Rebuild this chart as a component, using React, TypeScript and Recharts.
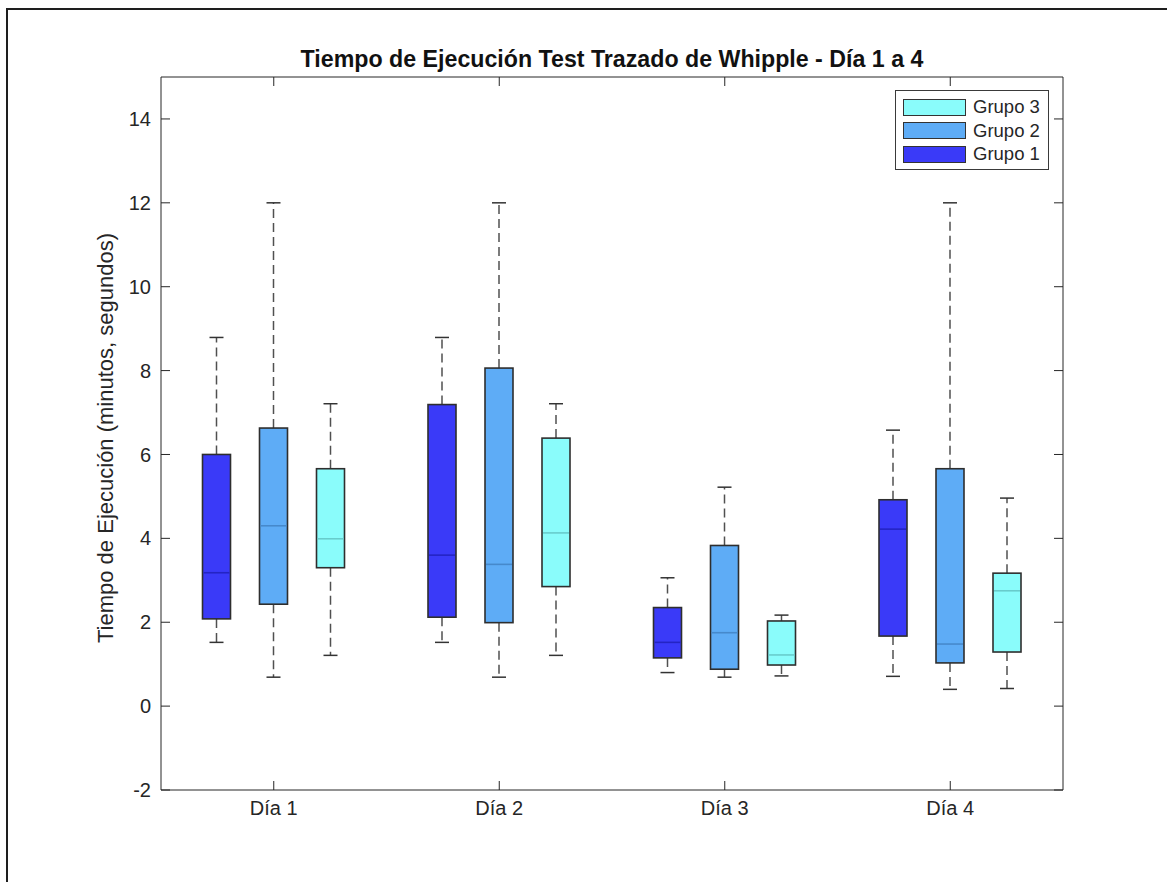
import { Bar, BarChart, XAxis, YAxis } from "recharts";

// Boxplots of execution time for the Whipple tracing test, three groups
// per day. Each tuple is [min, q1, median, q3, max].
const days = ["Día 1", "Día 2", "Día 3", "Día 4"];

const grupo1 = [
  [1.52, 2.08, 3.18, 6.0, 8.79],
  [1.52, 2.12, 3.6, 7.19, 8.79],
  [0.8, 1.15, 1.52, 2.35, 3.06],
  [0.71, 1.67, 4.22, 4.92, 6.58],
];
const grupo2 = [
  [0.69, 2.43, 4.3, 6.63, 12.0],
  [0.69, 1.99, 3.38, 8.06, 12.0],
  [0.69, 0.88, 1.75, 3.83, 5.22],
  [0.4, 1.03, 1.48, 5.66, 12.0],
];
const grupo3 = [
  [1.21, 3.3, 3.99, 5.66, 7.21],
  [1.21, 2.85, 4.13, 6.39, 7.21],
  [0.72, 0.98, 1.22, 2.03, 2.17],
  [0.42, 1.29, 2.75, 3.17, 4.96],
];

const yTicks = [-2, 0, 2, 4, 6, 8, 10, 12, 14];

const groups = [
  { key: "g1", name: "Grupo 1", stats: grupo1, fill: "#3a3af8", median: "#2424c4" },
  { key: "g2", name: "Grupo 2", stats: grupo2, fill: "#5eacf6", median: "#4689cc" },
  { key: "g3", name: "Grupo 3", stats: grupo3, fill: "#8afcfb", median: "#68cccc" },
];

// one row per day; the bar value is the whisker range, full stats ride along
const data = days.map((day, i) => {
  const row: Record<string, unknown> = { day };
  groups.forEach((g) => {
    const s = g.stats[i];
    row[g.key] = [s[0], s[4]];
    row[g.key + "Stats"] = s;
  });
  return row;
});

const AXIS = "#262626";
const FONT = "'Liberation Sans', Arial, Helvetica, sans-serif";

// mirrored axes keep their tick marks but draw no labels
const NoLabel = () => <g />;

function BoxShape(props: any) {
  const { x, y, width, height, payload, statsKey, fill, median } = props;
  const s: number[] = payload?.[statsKey];
  if (!s) return null;
  const [min, q1, med, q3, max] = s;
  const top = Math.min(y, y + height);
  const bot = Math.max(y, y + height);
  // pixel position from the bar's own scaled extent (min..max)
  const yOf = (v: number) => top + ((max - v) * (bot - top)) / (max - min);
  const cx = x + width / 2;
  const half = 14;
  const cap = 7;
  return (
    <g>
      <line x1={cx} x2={cx} y1={yOf(q3)} y2={yOf(max)} stroke="#505050" strokeWidth={1.5} strokeDasharray="9 5" />
      <line x1={cx} x2={cx} y1={yOf(q1)} y2={yOf(min)} stroke="#505050" strokeWidth={1.5} strokeDasharray="9 5" />
      <line x1={cx - cap} x2={cx + cap} y1={yOf(max)} y2={yOf(max)} stroke="#333" strokeWidth={1.5} />
      <line x1={cx - cap} x2={cx + cap} y1={yOf(min)} y2={yOf(min)} stroke="#333" strokeWidth={1.5} />
      <rect
        x={cx - half}
        y={yOf(q3)}
        width={half * 2}
        height={yOf(q1) - yOf(q3)}
        fill={fill}
        stroke="#2e2e2e"
        strokeWidth={1.6}
      />
      <line x1={cx - half + 1} x2={cx + half - 1} y1={yOf(med)} y2={yOf(med)} stroke={median} strokeWidth={1.6} />
    </g>
  );
}

function LegendBox() {
  const rows = [...groups].reverse();
  return (
    <div
      style={{
        position: "absolute",
        left: 895,
        top: 90,
        width: 154,
        height: 80,
        border: "1px solid #3a3a3a",
        background: "#fff",
        fontFamily: FONT,
        fontSize: 18.5,
        color: AXIS,
        boxSizing: "border-box",
      }}
    >
      {rows.map((g, i) => (
        <div key={g.key} style={{ position: "absolute", left: 7, top: 7 + i * 23.5, height: 18, display: "flex", alignItems: "center" }}>
          <div style={{ width: 63, height: 17, background: g.fill, border: "1px solid #333", boxSizing: "border-box" }} />
          <span style={{ marginLeft: 7, lineHeight: "18px" }}>{g.name}</span>
        </div>
      ))}
    </div>
  );
}

export default function App() {
  return (
    <div style={{ position: "absolute", left: 0, top: 0, width: 1167, height: 882, background: "#fff" }}>
      <div
        style={{
          position: "absolute",
          left: 6,
          top: 8,
          width: 1161,
          height: 874,
          borderTop: "2px solid #1e1e1e",
          borderLeft: "2px solid #1e1e1e",
          boxSizing: "border-box",
        }}
      />
      <div
        style={{
          position: "absolute",
          left: 161,
          width: 902,
          top: 46,
          textAlign: "center",
          fontFamily: FONT,
          fontWeight: "bold",
          fontSize: 23.2,
          color: "#111",
          lineHeight: "26px",
        }}
      >
        Tiempo de Ejecución Test Trazado de Whipple - Día 1 a 4
      </div>
      <div
        style={{
          position: "absolute",
          left: 106,
          top: 438,
          transform: "translate(-50%, -50%) rotate(-90deg)",
          whiteSpace: "nowrap",
          fontFamily: FONT,
          fontSize: 22,
          color: AXIS,
          lineHeight: "24px",
        }}
      >
        Tiempo de Ejecución (minutos, segundos)
      </div>
      <div style={{ position: "absolute", left: 0, top: 0 }}>
        <BarChart
          width={1167}
          height={882}
          data={data}
          margin={{ top: 76, right: 103, bottom: 52, left: 101 }}
          barSize={57}
          barGap={0}
          style={{ fontFamily: FONT }}
        >
          <XAxis
            xAxisId="bottom"
            dataKey="day"
            height={40}
            tickSize={-9}
            tickMargin={20}
            axisLine={{ stroke: AXIS }}
            tickLine={{ stroke: AXIS }}
            tick={{ fill: AXIS, fontSize: 20 }}
            interval={0}
          />
          <XAxis
            xAxisId="top"
            dataKey="day"
            orientation="top"
            height={1}
            tickSize={-9}
            tickMargin={0}
            tick={NoLabel}
            interval={0}
            axisLine={{ stroke: AXIS }}
            tickLine={{ stroke: AXIS }}
          />
          <YAxis
            yAxisId="left"
            type="number"
            domain={[-2, 15]}
            ticks={yTicks}
            interval={0}
            allowDataOverflow
            width={60}
            tickSize={-9}
            tickMargin={19}
            axisLine={{ stroke: AXIS }}
            tickLine={{ stroke: AXIS }}
            tick={{ fill: AXIS, fontSize: 20 }}
          />
          <YAxis
            yAxisId="right"
            orientation="right"
            type="number"
            domain={[-2, 15]}
            ticks={yTicks}
            interval={0}
            allowDataOverflow
            width={1}
            tickSize={-9}
            tickMargin={0}
            tick={NoLabel}
            axisLine={{ stroke: AXIS }}
            tickLine={{ stroke: AXIS }}
          />
          {groups.map((g) => (
            <Bar
              key={g.key}
              dataKey={g.key}
              name={g.name}
              xAxisId="bottom"
              yAxisId="left"
              isAnimationActive={false}
              shape={(p: any) => <BoxShape {...p} statsKey={g.key + "Stats"} fill={g.fill} median={g.median} />}
            />
          ))}
          {/* empty series so the mirrored top/right axes have something bound to them */}
          <Bar dataKey="frame" xAxisId="top" yAxisId="right" isAnimationActive={false} fill="none" />
        </BarChart>
      </div>
      <LegendBox />
    </div>
  );
}
